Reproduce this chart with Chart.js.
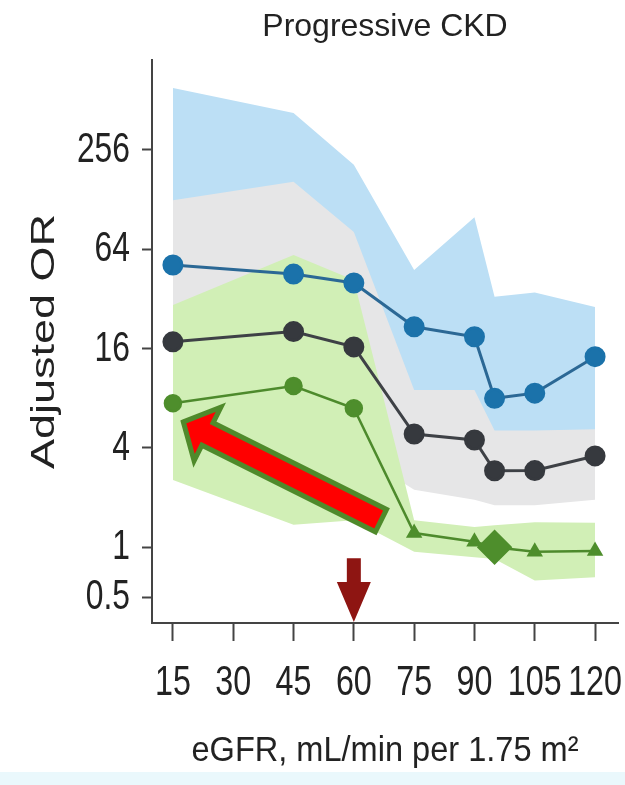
<!DOCTYPE html>
<html><head><meta charset="utf-8">
<script src="https://cdn.jsdelivr.net/npm/chart.js@4.4.1/dist/chart.umd.min.js"></script>
<style>
html,body{margin:0;padding:0;}
body{width:625px;height:785px;overflow:hidden;background:linear-gradient(to bottom,#ffffff 0,#ffffff 772px,#eaf8fc 772px,#eaf8fc 785px);}
#wrap{position:relative;width:625px;height:785px;}
</style></head><body>
<div id="wrap"><canvas id="c"></canvas></div>
<script>
// ---- data ----
const egfr = [15, 45, 60, 75, 90, 95, 105, 120];
const blueOR    = [51.4, 45.3, 40.0, 21.7, 18.9, 8.0, 8.6, 14.3];
const blueUpper = [608, 429, 208, 48, 100, 33, 35, 28.6];
const blueLower = [12, 14, 11, 8, 7, 4.6, 4.6, 4.8];
const grayOR    = [17.6, 20.3, 16.4, 4.86, 4.47, 2.91, 2.92, 3.58];
const grayUpper = [127, 164, 81.5, 9.0, 9.0, 5.1, 5.1, 5.2];
const grayLower = [4.0, 4.5, 3.8, 2.23, 1.94, 1.8, 1.8, 1.94];
const greenOR    = [7.46, 9.5, 6.96, 1.22, 1.08, 1.0, 0.94, 0.95];
const greenUpper = [29.4, 59, 41.7, 1.46, 1.33, 1.36, 1.42, 1.41];
const greenLower = [2.56, 1.37, 1.46, 0.94, 0.87, 0.85, 0.63, 0.66];
const xTicks = [15, 30, 45, 60, 75, 90, 105, 120];
const yTicks = [0.5, 1, 4, 16, 64, 256];
const greenMarkers = ['circle','circle','circle','triangle','triangle','rectRot','triangle','triangle'];
const greenRadius  = [8, 8, 8, 7, 7, 16, 7, 7];
// annotations (in data units)
const bigArrow = {tipX: 16.7, tipY: 5.9, tailX: 67.3, tailY: 1.43};
const downArrow = {x: 60, topY: 0.86};

const REG = "'Liberation Sans',Arial,sans-serif";

const pts = ys => egfr.map((x, i) => ({x: x, y: ys[i]}));
const band = (ys, order, fill, color) => ({
  data: pts(ys), order: order, fill: fill, backgroundColor: color,
  borderWidth: 0, borderColor: 'rgba(0,0,0,0)', pointRadius: 0, tension: 0
});

// draw a scale's text narrower (the reference uses a condensed face)
function condense(scale, method, sx, sy) {
  if (scale['_c_' + method]) return;
  scale['_c_' + method] = true;
  const orig = scale[method];
  scale[method] = function () {
    const ctx = this.ctx;
    const ft = CanvasRenderingContext2D.prototype.fillText;
    ctx.fillText = function (t, x, y) {
      this.save(); this.translate(x, y); this.scale(sx, sy);
      ft.call(this, t, 0, 0);
      this.restore();
    };
    try { orig.apply(this, arguments); } finally { delete ctx.fillText; }
  };
}
const condensePlugin = {
  id: 'condense',
  beforeDraw(chart) {
    condense(chart.scales.x, 'drawLabels', 0.75, 1);
    condense(chart.scales.y, 'drawLabels', 0.74, 1);
    condense(chart.scales.x, 'drawTitle', 0.93, 1);
    condense(chart.scales.y, 'drawTitle', 1, 0.75);
  }
};

const arrowPlugin = {
  id: 'arrows',
  afterDatasetsDraw(chart) {
    const ctx = chart.ctx, xs = chart.scales.x, ys = chart.scales.y;
    const tx = xs.getPixelForValue(bigArrow.tipX), ty = ys.getPixelForValue(bigArrow.tipY);
    const sx = xs.getPixelForValue(bigArrow.tailX), sy = ys.getPixelForValue(bigArrow.tailY);
    const L = Math.hypot(sx - tx, sy - ty);
    const ang = Math.atan2(sy - ty, sx - tx);
    ctx.save();
    ctx.translate(tx, ty);
    ctx.rotate(ang);
    ctx.beginPath();
    ctx.moveTo(4, 0);
    ctx.lineTo(31, -30);
    ctx.lineTo(31, -12.5);
    ctx.lineTo(L - 2.5, -12.5);
    ctx.lineTo(L - 2.5, 12.5);
    ctx.lineTo(31, 12.5);
    ctx.lineTo(31, 30);
    ctx.closePath();
    ctx.fillStyle = '#ff0000';
    ctx.fill();
    ctx.lineWidth = 5;
    ctx.lineJoin = 'miter';
    ctx.strokeStyle = '#4f8a2b';
    ctx.stroke();
    ctx.restore();
    const dx = xs.getPixelForValue(downArrow.x);
    const top = ys.getPixelForValue(downArrow.topY);
    const bottom = chart.chartArea.bottom - 1;
    ctx.save();
    ctx.beginPath();
    ctx.moveTo(dx - 7, top);
    ctx.lineTo(dx + 7, top);
    ctx.lineTo(dx + 7, bottom - 40);
    ctx.lineTo(dx + 17, bottom - 40);
    ctx.lineTo(dx, bottom);
    ctx.lineTo(dx - 17, bottom - 40);
    ctx.lineTo(dx - 7, bottom - 40);
    ctx.closePath();
    ctx.fillStyle = '#8e1512';
    ctx.fill();
    ctx.restore();
  }
};

new Chart(document.getElementById('c'), {
  type: 'line',
  data: {
    datasets: [
      {data: pts(blueOR), order: 1, borderColor: '#2b6895', borderWidth: 3,
       pointBackgroundColor: '#1b72aa', pointBorderColor: '#1b72aa', pointRadius: 9, fill: false, tension: 0},
      {data: pts(grayOR), order: 2, borderColor: '#3e4146', borderWidth: 3,
       pointBackgroundColor: '#36393e', pointBorderColor: '#36393e', pointRadius: 9, fill: false, tension: 0},
      {data: pts(greenOR), order: 3, borderColor: '#4d8a2c', borderWidth: 2.5,
       pointBackgroundColor: '#4e8e2c', pointBorderColor: '#4e8e2c', pointStyle: greenMarkers,
       pointRadius: greenRadius, fill: false, tension: 0},
      band(greenUpper, 4, '+1', '#d1efb6'),
      band(greenLower, 5, false, 'rgba(0,0,0,0)'),
      band(grayUpper, 6, '+1', '#e6e6e7'),
      band(grayLower, 7, false, 'rgba(0,0,0,0)'),
      band(blueUpper, 8, '+1', '#bcdff5'),
      band(blueLower, 9, false, 'rgba(0,0,0,0)')
    ]
  },
  options: {
    responsive: true,
    maintainAspectRatio: false,
    devicePixelRatio: 1,
    animation: false,
    layout: {autoPadding: false, padding: {left: 0, right: 7, top: 0, bottom: 0}},
    plugins: {
      legend: {display: false},
      tooltip: {enabled: false},
      title: {display: true, text: 'Progressive CKD', fullSize: false, color: '#222',
              font: {family: REG, size: 32, weight: 'normal'}, padding: {top: 7.7, bottom: 13.9}}
    },
    scales: {
      x: {
        type: 'linear', min: 9.8, max: 125.7, bounds: 'data',
        afterBuildTicks: s => { s.ticks = xTicks.map(v => ({value: v})); },
        afterFit: s => { s.height = 162; s.paddingLeft = 0; s.paddingRight = 0; },
        border: {color: '#444', width: 2},
        grid: {drawOnChartArea: false, drawTicks: true, tickLength: 18, tickColor: '#444', tickWidth: 2},
        ticks: {autoSkip: false, maxRotation: 0, minRotation: 0, padding: 16, color: '#222',
                font: {family: REG, size: 43}, callback: v => String(v)},
        title: {display: true, text: 'eGFR, mL/min per 1.75 m²', color: '#222',
                font: {family: REG, size: 35}, padding: {top: 0, bottom: 13}}
      },
      y: {
        type: 'logarithmic', min: 0.348, max: 898, bounds: 'data',
        afterBuildTicks: s => { s.ticks = yTicks.map(v => ({value: v})); },
        afterFit: s => { s.width = 152; s.paddingTop = 0; s.paddingBottom = 0; },
        border: {color: '#444', width: 2},
        grid: {drawOnChartArea: false, drawTicks: true, tickLength: 10, tickColor: '#444', tickWidth: 2},
        ticks: {autoSkip: false, padding: 12, color: '#222',
                font: {family: REG, size: 43}, callback: v => String(v)},
        title: {display: true, text: 'Adjusted OR', color: '#222',
                font: {family: REG, size: 45}, padding: {top: 18, bottom: 0}}
      }
    }
  },
  plugins: [condensePlugin, arrowPlugin]
});
</script>
</body></html>
